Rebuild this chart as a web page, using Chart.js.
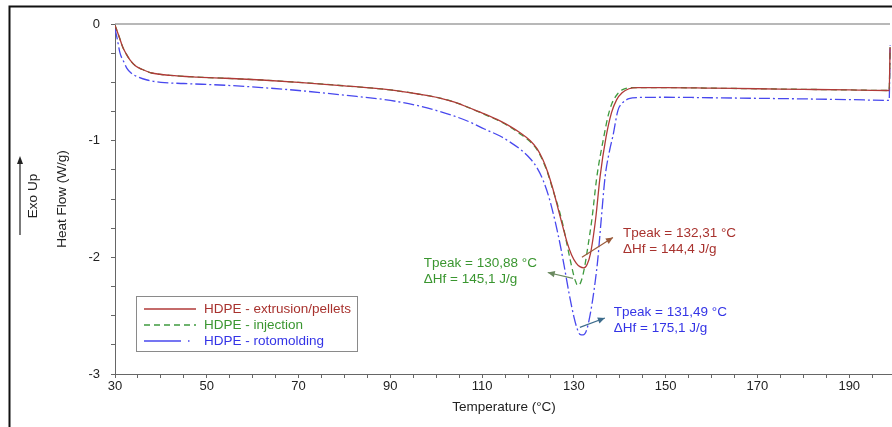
<!DOCTYPE html>
<html>
<head>
<meta charset="utf-8">
<script src="https://cdn.jsdelivr.net/npm/chart.js@4.4.1/dist/chart.umd.min.js"></script>
<style>
  html, body { margin: 0; padding: 0; background: #fff; }
  #wrap { width: 892px; height: 427px; position: relative; }
</style>
</head>
<body>
<div id="wrap"><canvas id="c" width="892" height="427"></canvas></div>
<script>
// ---------- DATA ----------
const seriesNames = ['HDPE - extrusion/pellets', 'HDPE - injection', 'HDPE - rotomolding'];

const tempExtrusion = [30, 31, 31.7, 32.5, 33.3, 34.5, 36, 38, 42, 48, 54, 62, 70, 80, 90, 96, 100.8, 104, 107.3, 110.5, 113.9, 116, 118.2, 120.5, 122, 123.2, 124.3, 125.4, 127, 128.5, 129.5, 130.5, 131.3, 132.2, 132.9, 133.6, 134.2, 134.8, 135.7, 137, 138.2, 139.3, 140.5, 142, 144, 150, 160, 170, 180, 190, 198.7, 198.9];
const flowExtrusion = [-0.01, -0.12, -0.20, -0.26, -0.31, -0.36, -0.39, -0.42, -0.44, -0.455, -0.465, -0.48, -0.50, -0.53, -0.565, -0.60, -0.635, -0.67, -0.72, -0.77, -0.83, -0.875, -0.93, -1.00, -1.07, -1.16, -1.27, -1.41, -1.65, -1.87, -1.98, -2.05, -2.08, -2.09, -2.06, -1.97, -1.83, -1.65, -1.31, -0.97, -0.76, -0.65, -0.59, -0.555, -0.545, -0.545, -0.55, -0.555, -0.56, -0.565, -0.57, -0.20];

const tempInjection = [30, 31, 31.7, 32.5, 33.3, 34.5, 36, 38, 42, 48, 54, 62, 70, 80, 90, 96, 100.8, 104, 107.3, 110.5, 113.9, 116, 118.2, 120.5, 122, 123.2, 124.3, 125.4, 126.6, 127.6, 128.5, 129.3, 130, 130.4, 130.8, 131.2, 131.7, 132.3, 133, 133.9, 135, 136.5, 137.5, 138.3, 139.5, 140.5, 142.5, 150, 160, 170, 180, 190, 198.7, 198.9];
const flowInjection = [-0.01, -0.12, -0.20, -0.26, -0.31, -0.36, -0.39, -0.42, -0.44, -0.455, -0.465, -0.48, -0.50, -0.53, -0.565, -0.60, -0.635, -0.67, -0.72, -0.775, -0.835, -0.88, -0.94, -1.01, -1.08, -1.17, -1.28, -1.42, -1.57, -1.72, -1.89, -2.04, -2.16, -2.21, -2.24, -2.235, -2.19, -2.09, -1.92, -1.68, -1.31, -0.97, -0.78, -0.68, -0.60, -0.565, -0.545, -0.545, -0.55, -0.555, -0.56, -0.565, -0.57, -0.20];

const tempRotomolding = [30, 30.5, 31.1, 32, 32.6, 33.5, 34.8, 37, 40, 45, 54, 62, 70, 80, 90, 96, 100.8, 104, 107.3, 110.5, 113.9, 116, 118.5, 120.5, 122, 123.3, 124.6, 125.9, 127, 128, 129, 130, 130.7, 131.3, 132, 132.8, 133.5, 134.1, 134.7, 135.2, 135.9, 136.8, 137.8, 138.5, 139.6, 140.5, 142, 144, 150, 160, 170, 180, 190, 198.7, 198.9];
const flowRotomolding = [-0.04, -0.13, -0.25, -0.33, -0.38, -0.42, -0.45, -0.48, -0.50, -0.51, -0.525, -0.545, -0.57, -0.61, -0.655, -0.70, -0.75, -0.79, -0.84, -0.90, -0.96, -1.01, -1.08, -1.155, -1.235, -1.34, -1.49, -1.69, -1.89, -2.10, -2.32, -2.51, -2.61, -2.66, -2.665, -2.62, -2.50, -2.36, -2.19, -2.02, -1.70, -1.31, -1.08, -0.96, -0.74, -0.68, -0.64, -0.63, -0.628, -0.632, -0.637, -0.642, -0.648, -0.655, -0.18];

const xTickLabels = [30, 50, 70, 90, 110, 130, 150, 170, 190];
const yTickLabels = [0, -1, -2, -3];

const peakTexts = [
  ['Tpeak = 132,31 °C', 'ΔHf = 144,4 J/g'],
  ['Tpeak = 130,88 °C', 'ΔHf = 145,1 J/g'],
  ['Tpeak = 131,49 °C', 'ΔHf = 175,1 J/g']
];

// ---------- STYLE / LAYOUT ----------
const lineColors = ['#b03a38', '#3f9b3f', '#4848ee'];
const textColors = ['#a8322e', '#3a9630', '#3434e6'];
const dashes = [[], [6, 4], [11, 3, 2, 3]];
const FONT = '"Liberation Sans", Arial, sans-serif';

// annotation anchors in data units (T, W/g)
const noteLayout = [
  { text: [140.7, -1.79], arrowFrom: [131.75, -2.00], arrowTo: [138.5, -1.83], arrowColor: '#9a5a3a' },
  { text: [97.3, -2.05], arrowFrom: [129.8, -2.18], arrowTo: [124.3, -2.13], arrowColor: '#6b8a60' },
  { text: [138.7, -2.47], arrowFrom: [131.3, -2.60], arrowTo: [136.75, -2.52], arrowColor: '#3d6c8c' }
];

function pts(t, v) { return t.map((x, i) => ({ x: x, y: v[i] })); }

const temps = [tempExtrusion, tempInjection, tempRotomolding];
const flows = [flowExtrusion, flowInjection, flowRotomolding];

const datasets = seriesNames.map((name, i) => ({
  label: name,
  data: pts(temps[i], flows[i]),
  borderColor: lineColors[i],
  borderWidth: 1.3,
  borderDash: dashes[i],
  pointRadius: 0,
  fill: false,
  cubicInterpolationMode: 'monotone'
}));

function arrow(ctx, x1, y1, x2, y2, color) {
  ctx.save();
  ctx.strokeStyle = color; ctx.fillStyle = color; ctx.lineWidth = 1.2;
  ctx.beginPath(); ctx.moveTo(x1, y1); ctx.lineTo(x2, y2); ctx.stroke();
  const a = Math.atan2(y2 - y1, x2 - x1), L = 7, W = 3.2;
  ctx.beginPath();
  ctx.moveTo(x2, y2);
  ctx.lineTo(x2 - L * Math.cos(a) + W * Math.sin(a), y2 - L * Math.sin(a) - W * Math.cos(a));
  ctx.lineTo(x2 - L * Math.cos(a) - W * Math.sin(a), y2 - L * Math.sin(a) + W * Math.cos(a));
  ctx.closePath(); ctx.fill();
  ctx.restore();
}

const decor = {
  id: 'decor',
  beforeDraw(chart) {
    const ctx = chart.ctx;
    ctx.save();
    ctx.fillStyle = '#fff';
    ctx.fillRect(0, 0, chart.width, chart.height);
    ctx.restore();
  },
  afterDraw(chart) {
    const ctx = chart.ctx, xs = chart.scales.x, ys = chart.scales.y, ca = chart.chartArea;
    ctx.save();
    // outer frame
    ctx.strokeStyle = '#111'; ctx.lineWidth = 2;
    ctx.beginPath(); ctx.moveTo(9.5, 440); ctx.lineTo(9.5, 6.5); ctx.lineTo(900, 6.5); ctx.stroke();
    // plot top border
    ctx.strokeStyle = '#a0a0a0'; ctx.lineWidth = 1.5;
    ctx.beginPath(); ctx.moveTo(ca.left, ca.top); ctx.lineTo(ca.right - 1, ca.top); ctx.stroke();

    // axis titles
    ctx.fillStyle = '#222';
    ctx.font = '13.5px ' + FONT;
    ctx.textAlign = 'center'; ctx.textBaseline = 'middle';
    ctx.fillText('Temperature (°C)', (ca.left + ca.right) / 2 + 1, 407);
    ctx.save();
    ctx.translate(62.5, (ca.top + ca.bottom) / 2);
    ctx.rotate(-Math.PI / 2);
    ctx.fillText('Heat Flow (W/g)', 0, 0);
    ctx.restore();
    ctx.save();
    ctx.translate(33, 196);
    ctx.rotate(-Math.PI / 2);
    ctx.fillText('Exo Up', 0, 0);
    ctx.restore();
    // Exo up arrow
    ctx.strokeStyle = '#222'; ctx.fillStyle = '#222'; ctx.lineWidth = 1.2;
    ctx.beginPath(); ctx.moveTo(20, 235); ctx.lineTo(20, 162); ctx.stroke();
    ctx.beginPath(); ctx.moveTo(20, 156); ctx.lineTo(17, 164); ctx.lineTo(23, 164); ctx.closePath(); ctx.fill();

    // legend
    ctx.fillStyle = '#fff'; ctx.strokeStyle = '#8a8a8a'; ctx.lineWidth = 1;
    ctx.fillRect(136.5, 296.5, 221, 55);
    ctx.strokeRect(136.5, 296.5, 221, 55);
    const ly = [309, 325, 341];
    seriesNames.forEach((n, i) => {
      ctx.save();
      ctx.strokeStyle = lineColors[i]; ctx.lineWidth = 1.6;
      ctx.setLineDash(i === 2 ? [37, 7, 1.5, 7] : dashes[i]);
      ctx.beginPath(); ctx.moveTo(144, ly[i]); ctx.lineTo(196, ly[i]); ctx.stroke();
      ctx.restore();
      ctx.fillStyle = textColors[i];
      ctx.font = '13.5px ' + FONT;
      ctx.textAlign = 'left'; ctx.textBaseline = 'middle';
      ctx.fillText(n, 204, ly[i]);
    });

    // peak annotations
    noteLayout.forEach((L, i) => {
      const tx = xs.getPixelForValue(L.text[0]), ty = ys.getPixelForValue(L.text[1]);
      ctx.fillStyle = textColors[i];
      ctx.font = '13.5px ' + FONT;
      ctx.textAlign = 'left'; ctx.textBaseline = 'middle';
      ctx.fillText(peakTexts[i][0], tx, ty);
      ctx.fillText(peakTexts[i][1], tx, ty + 16);
      arrow(ctx, xs.getPixelForValue(L.arrowFrom[0]), ys.getPixelForValue(L.arrowFrom[1]),
                 xs.getPixelForValue(L.arrowTo[0]), ys.getPixelForValue(L.arrowTo[1]), L.arrowColor);
    });
    ctx.restore();
  }
};

new Chart(document.getElementById('c'), {
  type: 'line',
  data: { datasets: datasets },
  options: {
    responsive: false,
    animation: false,
    parsing: true,
    layout: { padding: { top: 24, right: 1, bottom: 0, left: 0 } },
    plugins: { legend: { display: false }, tooltip: { enabled: false } },
    scales: {
      x: {
        type: 'linear', min: 30, max: 199.1,
        afterBuildTicks: (s) => {
          const t = [];
          for (let v = 30; v <= 195; v += 5) t.push({ value: v });
          s.ticks = t;
        },
        afterFit: (s) => { s.height = 53; },
        ticks: {
          autoSkip: false, maxRotation: 0, padding: 1,
          color: '#222', font: { family: FONT, size: 13 },
          callback: (v) => xTickLabels.includes(v) ? String(v) : ''
        },
        grid: { drawOnChartArea: false, drawTicks: true, tickLength: 4, color: '#666' },
        border: { display: true, color: '#666', width: 1 }
      },
      y: {
        type: 'linear', min: -3, max: 0,
        afterBuildTicks: (s) => {
          const t = [];
          for (let k = 0; k <= 12; k++) t.push({ value: -3 + k * 0.25 });
          s.ticks = t;
        },
        afterFit: (s) => { s.width = 115; },
        ticks: {
          autoSkip: false, padding: 11,
          color: '#222', font: { family: FONT, size: 13 },
          callback: (v) => yTickLabels.includes(v) ? String(v) : ''
        },
        grid: { drawOnChartArea: false, drawTicks: true, tickLength: 4, color: '#666' },
        border: { display: true, color: '#666', width: 1 }
      }
    }
  },
  plugins: [decor]
});
</script>
</body>
</html>
